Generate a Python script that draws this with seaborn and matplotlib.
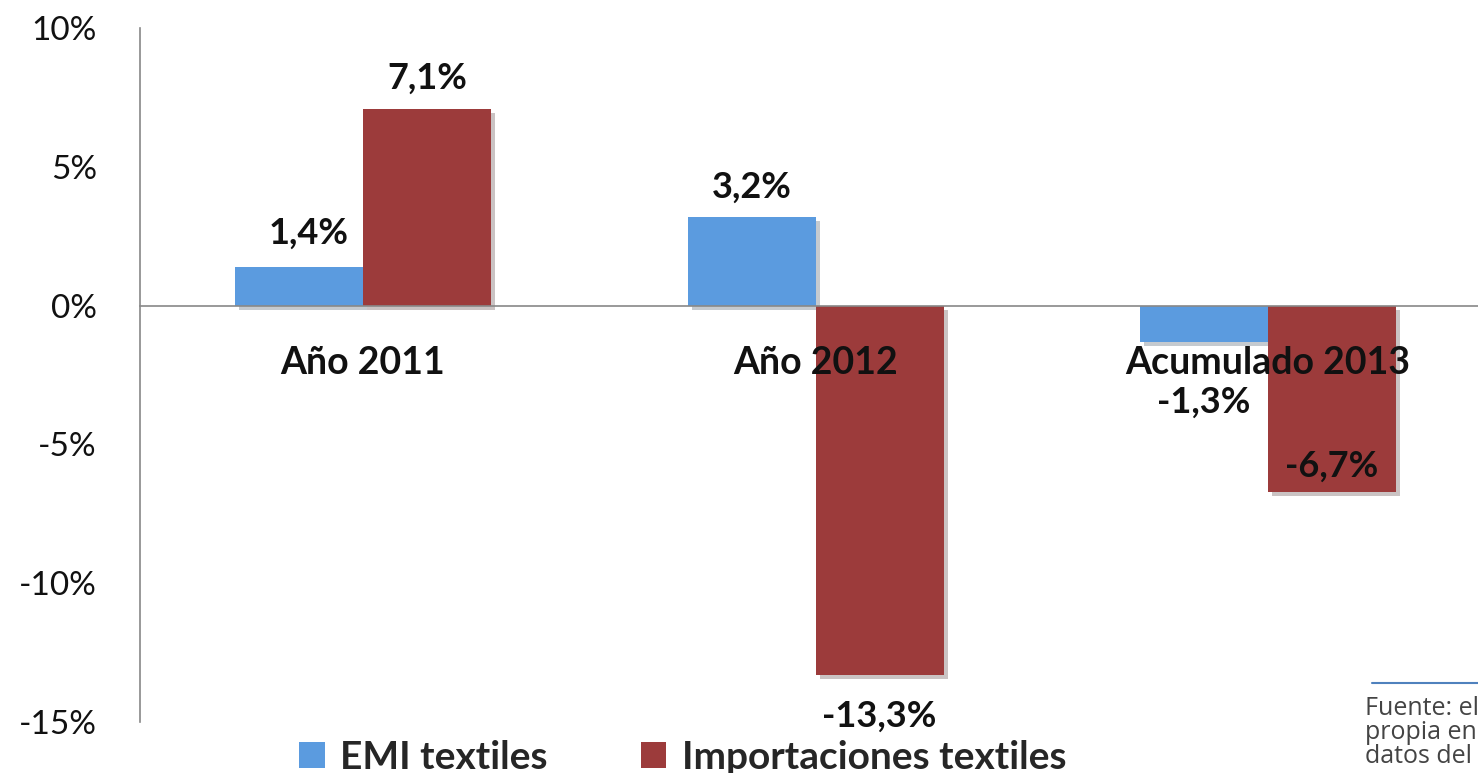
import pandas as pd
import matplotlib.pyplot as plt
import matplotlib.patheffects as pe
from matplotlib.patches import Patch
from matplotlib.lines import Line2D
import seaborn as sns

# data
categories = ["Año 2011", "Año 2012", "Acumulado 2013"]
series = ["EMI textiles", "Importaciones textiles"]
emi = [1.4, 3.2, -1.3]
imports = [7.1, -13.3, -6.7]
value_labels_emi = ["1,4%", "3,2%", "-1,3%"]
value_labels_imp = ["7,1%", "-13,3%", "-6,7%"]
yticks = [-15, -10, -5, 0, 5, 10]
source_text = "Fuente: elaboración\npropia en base a\ndatos del BCU"

colors = ["#5B9BDF", "#9C3B3B"]

df = pd.DataFrame({
    "cat": categories * 2,
    "serie": [series[0]] * 3 + [series[1]] * 3,
    "val": emi + imports,
})

sns.set_style("white")
plt.rcParams["font.family"] = ["Lato", "DejaVu Sans"]

fig = plt.figure(figsize=(14.78, 7.73), dpi=100)
ax = fig.add_axes([140 / 1478, 51 / 773, 1 - 140 / 1478, (722 - 28) / 773])

sns.barplot(data=df, x="cat", y="val", hue="serie", palette=colors,
            width=0.566, ax=ax, legend=False, saturation=1,
            edgecolor="none")

for bar in ax.patches:
    bar.set_path_effects([pe.withSimplePatchShadow(offset=(3, -3), alpha=0.25), pe.Normal()])

ax.set_xlim(-0.493, 2.464)
ax.set_ylim(-15, 10)
ax.set_yticks(yticks)
ax.set_yticklabels([f"{t}%" for t in yticks])
ax.set_xticklabels([])
ax.set_xlabel("")
ax.set_ylabel("")

for s in ["top", "right"]:
    ax.spines[s].set_visible(False)
ax.spines["left"].set_color("#888888")
ax.spines["bottom"].set_color("#888888")
ax.spines["bottom"].set_position(("data", 0))
ax.spines["left"].set_linewidth(1.2)
ax.spines["bottom"].set_linewidth(1.2)

ax.tick_params(axis="y", length=0, pad=31, labelsize=24, labelcolor="#111111")
ax.tick_params(axis="x", length=0)

# category names sit just under the zero line, over the bars
for i, cat in enumerate(categories):
    ax.annotate(cat, xy=(i, 0), xytext=(0, -57), textcoords="offset pixels",
                ha="center", va="center", fontsize=27, fontweight="bold",
                color="#111111", zorder=10)

# data labels, offsets in pixels (Excel placed them by hand)
offsets_emi = [(10, 33), (0, 30), (0, -61)]
offsets_imp = [(0, 30), (0, -41), (0, 25)]
for cont, labels, offs in [(ax.containers[0], value_labels_emi, offsets_emi),
                           (ax.containers[1], value_labels_imp, offsets_imp)]:
    for bar, lab, (dx, dy) in zip(cont, labels, offs):
        x = bar.get_x() + bar.get_width() / 2
        h = bar.get_height()
        ax.annotate(lab, xy=(x, h), xytext=(dx, dy), textcoords="offset pixels",
                    ha="center", va="center", fontsize=26, fontweight="bold",
                    color="#111111", zorder=10)

# legend at the bottom
handles = [Patch(facecolor=c, edgecolor="none") for c in colors]
fig.legend(handles, series, loc="center", bbox_to_anchor=(0.462, 0.02),
           ncol=2, frameon=False,
           prop={"weight": "bold", "size": 28},
           handlelength=0.65, handleheight=0.65, handletextpad=0.4,
           columnspacing=2.4, borderaxespad=0)

# source note, cut by the right edge
fig.add_artist(Line2D([1372 / 1478, 1.0], [1 - 683 / 773] * 2, color="#4F81BD", lw=1.5))
fig.text(1365 / 1478, 1 - 696 / 773, source_text, ha="left", va="top",
         fontsize=18, color="#444444", linespacing=0.95,
         family=["Open Sans", "DejaVu Sans"])

plt.savefig("out.png", dpi=100)
